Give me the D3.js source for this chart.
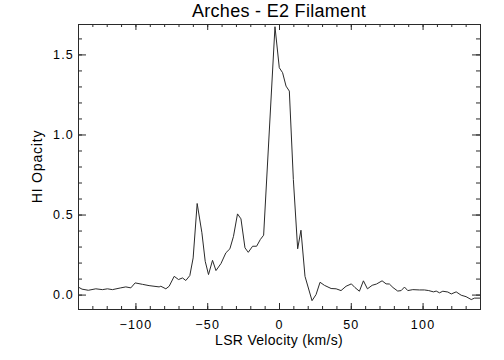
<!DOCTYPE html>
<head>
    <meta charset="utf-8">
    <script src="https://d3js.org/d3.v7.min.js"></script>
    <style>
      body { margin: 0; background: #fff; }
      .tick text { font-family: "Liberation Sans", Arial, sans-serif; }
    </style>
</head>
<body>
<svg width="504" height="360" font-family="Liberation Sans, Arial, sans-serif"></svg>
<script>

// velocity (km/s) and HI opacity
var velocity = [-140, -137.2, -132.8, -127.6, -123.0, -119.5, -116.0, -110.2, -106.7, -103.2,
  -100.2, -95.1, -90.5, -83.5, -82.3, -78.8, -76.5, -73.0, -70.0, -67.2,
  -64.9, -62.1, -59.8, -57.0, -53.7, -51.4, -49.1, -46.3, -43.9, -40.4,
  -37.0, -34.2, -31.7, -28.9, -26.5, -23.7, -21.4, -18.4, -15.6, -13.0,
  -10.7, -2.8, 0.2, 2.5, 4.9, 7.2, 10.0, 13.0, 15.3, 18.1,
  23.0, 25.8, 28.6, 31.6, 36.3, 39.8, 43.2, 46.7, 50.4, 52.9,
  56.0, 58.8, 61.6, 64.9, 67.9, 71.8, 74.6, 76.9, 79.4, 82.7,
  85.1, 87.4, 89.7, 93.2, 97.8, 101.3, 104.3, 107.6, 109.5, 111.8,
  114.1, 117.6, 120.0, 123.4, 126.9, 130.3, 133.9, 136.2, 140];

var opacity = [0.048, 0.034, 0.027, 0.036, 0.031, 0.036, 0.031, 0.042, 0.048, 0.042,
  0.073, 0.064, 0.056, 0.048, 0.052, 0.036, 0.052, 0.114, 0.094, 0.104,
  0.088, 0.119, 0.229, 0.569, 0.386, 0.208, 0.125, 0.214, 0.150, 0.194,
  0.261, 0.286, 0.364, 0.504, 0.473, 0.292, 0.264, 0.302, 0.302, 0.344,
  0.371, 1.673, 1.417, 1.386, 1.302, 1.271, 0.719, 0.286, 0.402, 0.114,
  -0.038, 0.0, 0.077, 0.058, 0.038, 0.036, 0.025, 0.052, 0.067, 0.044,
  0.021, 0.086, 0.036, 0.058, 0.066, 0.086, 0.067, 0.066, 0.044, 0.022,
  0.025, 0.047, 0.025, 0.031, 0.029, 0.029, 0.025, 0.017, 0.022, 0.011,
  0.021, 0.016, 0.004, 0.017, -0.004, -0.013, -0.031, -0.022, -0.022];

var xMajor = [-100, -50, 0, 50, 100];
var yMajor = [0.0, 0.5, 1.0, 1.5];

var svg = d3.select("svg");
var margin = {top: 24, right: 24, bottom: 51, left: 78},
    width = +svg.attr("width") - margin.left - margin.right,
    height = +svg.attr("height") - margin.top - margin.bottom;

var g = svg.append("g").attr("transform", "translate(" + margin.left + "," + margin.top + ")");

var x = d3.scaleLinear().domain([-140, 140]).range([0, width]);
var y = d3.scaleLinear().domain([-0.09, 1.69]).range([height, 0]);

var xMinor = d3.range(-140, 141, 10);
var yMinor = d3.range(-0.0, 1.65, 0.1);

var ink = "#2a2a2a";

// inward ticks on all four sides, minor then major
g.append("g").attr("transform", "translate(0," + height + ")")
    .call(d3.axisBottom(x).tickValues(xMinor).tickSize(-3).tickFormat(""));
g.append("g").attr("transform", "translate(0," + height + ")")
    .call(d3.axisBottom(x).tickValues(xMajor).tickSize(-6).tickPadding(11).tickFormat(d3.format("d")))
    .attr("font-size", 12.5);
g.append("g")
    .call(d3.axisTop(x).tickValues(xMinor).tickSize(-3).tickFormat(""));
g.append("g")
    .call(d3.axisTop(x).tickValues(xMajor).tickSize(-6).tickFormat(""));

g.append("g")
    .call(d3.axisLeft(y).tickValues(yMinor).tickSize(-4).tickFormat(""));
g.append("g")
    .call(d3.axisLeft(y).tickValues(yMajor).tickSize(-8).tickPadding(4).tickFormat(d3.format(".1f")))
    .attr("font-size", 12.5);
g.append("g").attr("transform", "translate(" + width + ",0)")
    .call(d3.axisRight(y).tickValues(yMinor).tickSize(-4).tickFormat(""));
g.append("g").attr("transform", "translate(" + width + ",0)")
    .call(d3.axisRight(y).tickValues(yMajor).tickSize(-8).tickFormat(""));

g.selectAll(".domain").attr("stroke", ink);
g.selectAll(".tick line").attr("stroke", ink);
g.selectAll(".tick text").attr("fill", "#000").attr("letter-spacing", 1.2);

g.append("defs").append("clipPath").attr("id", "clip")
  .append("rect").attr("width", width).attr("height", height);

var points = velocity.map(function(v, i) { return [v, opacity[i]]; });

g.append("path")
    .datum(points)
    .attr("clip-path", "url(#clip)")
    .attr("fill", "none")
    .attr("stroke", ink)
    .attr("stroke-width", 1)
    .attr("d", d3.line()
        .x(function(d) { return x(d[0]); })
        .y(function(d) { return y(d[1]); }));

svg.append("text")
    .attr("x", margin.left + width / 2)
    .attr("y", 17)
    .attr("text-anchor", "middle")
    .attr("font-size", 18)
    .attr("letter-spacing", 0.3)
    .text("Arches - E2 Filament");

svg.append("text")
    .attr("x", margin.left + width / 2)
    .attr("y", 345)
    .attr("text-anchor", "middle")
    .attr("font-size", 14)
    .attr("letter-spacing", 0.3)
    .text("LSR Velocity (km/s)");

svg.append("text")
    .attr("transform", "translate(42," + (margin.top + height / 2) + ")rotate(-90)")
    .attr("text-anchor", "middle")
    .attr("font-size", 14)
    .attr("letter-spacing", 0.8)
    .text("HI Opacity");

</script>
</body>
